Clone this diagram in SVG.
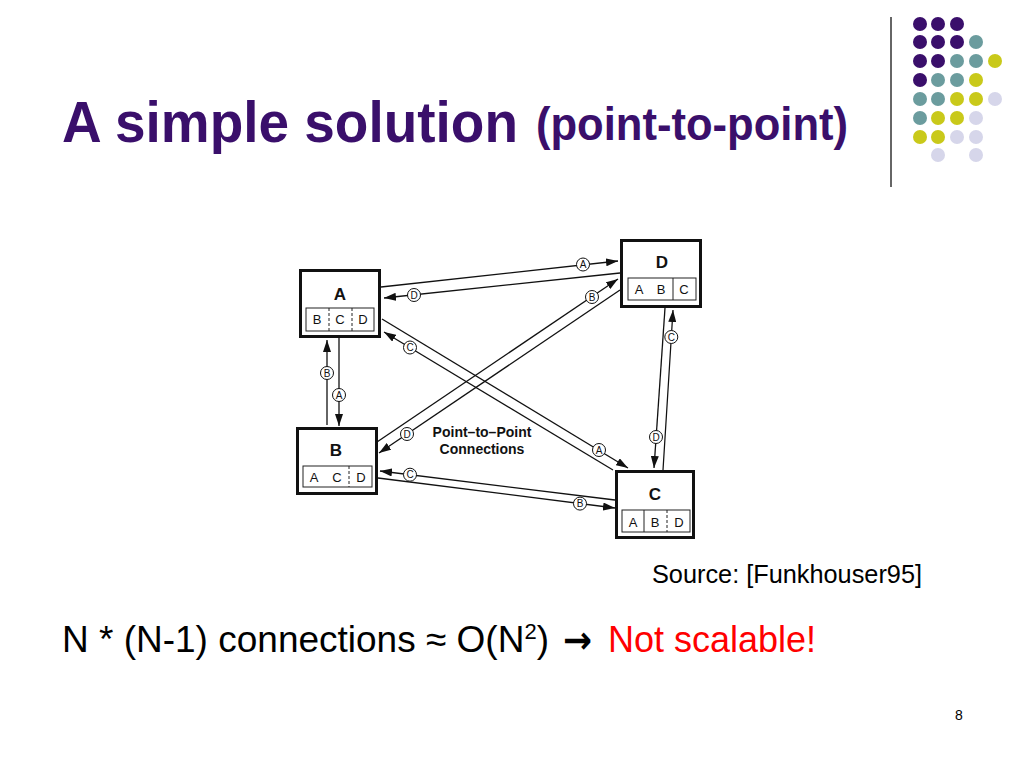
<svg xmlns="http://www.w3.org/2000/svg" width="1024" height="768" viewBox="0 0 1024 768">
<defs>
<style>
.title{font-family:"Liberation Sans",Arial,sans-serif;font-weight:bold;fill:#3a0f6b}
.body{font-family:"Liberation Sans",Arial,sans-serif;fill:#000}
.outer{fill:#fff;stroke:#111;stroke-width:3}
.inner{fill:none;stroke:#222;stroke-width:1}
.div{stroke:#222;stroke-width:1}
.dash{stroke-dasharray:3,2}
.nl{font-family:"Liberation Sans",Arial,sans-serif;font-weight:bold;font-size:17px;fill:#111;text-anchor:middle}
.cl{font-family:"Liberation Sans",Arial,sans-serif;font-size:13px;fill:#111;text-anchor:middle}
.ln{stroke:#111;stroke-width:1.3;fill:none;marker-end:url(#ah)}
.lc{fill:#fff;stroke:#111;stroke-width:1}
.lt{font-family:"Liberation Sans",Arial,sans-serif;font-size:10px;fill:#111;text-anchor:middle}
.pu{fill:#3a0f6b}.te{fill:#6b9c9e}.ye{fill:#c9c91a}.la{fill:#d6d6ea}
</style>
<marker id="ah" markerUnits="userSpaceOnUse" markerWidth="12" markerHeight="8" refX="12" refY="4" orient="auto">
<path d="M0,0 L12,4 L0,8 z" fill="#111"/>
</marker>
</defs>
<rect width="1024" height="768" fill="#fff"/>

<g id="dots">
<circle class="pu" cx="920" cy="24" r="7"/><circle class="pu" cx="938" cy="24" r="7"/><circle class="pu" cx="957" cy="24" r="7"/>
<circle class="pu" cx="920" cy="42" r="7"/><circle class="pu" cx="938" cy="42" r="7"/><circle class="pu" cx="957" cy="42" r="7"/><circle class="te" cx="976" cy="42" r="7"/>
<circle class="pu" cx="920" cy="61" r="7"/><circle class="pu" cx="938" cy="61" r="7"/><circle class="te" cx="957" cy="61" r="7"/><circle class="te" cx="976" cy="61" r="7"/><circle class="ye" cx="995" cy="61" r="7"/>
<circle class="pu" cx="920" cy="80" r="7"/><circle class="te" cx="938" cy="80" r="7"/><circle class="te" cx="957" cy="80" r="7"/><circle class="ye" cx="976" cy="80" r="7"/>
<circle class="te" cx="920" cy="99" r="7"/><circle class="te" cx="938" cy="99" r="7"/><circle class="ye" cx="957" cy="99" r="7"/><circle class="ye" cx="976" cy="99" r="7"/><circle class="la" cx="995" cy="99" r="7"/>
<circle class="te" cx="920" cy="118" r="7"/><circle class="ye" cx="938" cy="118" r="7"/><circle class="ye" cx="957" cy="118" r="7"/><circle class="la" cx="976" cy="118" r="7"/>
<circle class="ye" cx="920" cy="137" r="7"/><circle class="ye" cx="938" cy="137" r="7"/><circle class="la" cx="957" cy="137" r="7"/><circle class="la" cx="976" cy="137" r="7"/>
<circle class="la" cx="938" cy="155" r="7"/><circle class="la" cx="976" cy="155" r="7"/>
</g>
<line x1="891" y1="17" x2="891" y2="187" stroke="#333" stroke-width="1.5"/>

<text class="title" x="62" y="142" font-size="57" textLength="456" lengthAdjust="spacingAndGlyphs">A simple solution</text>
<text class="title" x="536" y="140" font-size="46" textLength="312" lengthAdjust="spacingAndGlyphs">(point-to-point)</text>

<g id="connectors">
<line class="ln" x1="381" y1="287" x2="618" y2="261"/>
<line class="ln" x1="620" y1="273" x2="384" y2="298"/>
<line class="ln" x1="382" y1="319" x2="628" y2="468"/>
<line class="ln" x1="613" y1="470" x2="384" y2="332"/>
<line class="ln" x1="377" y1="442" x2="618" y2="279"/>
<line class="ln" x1="620" y1="290" x2="379" y2="453"/>
<line class="ln" x1="615" y1="500" x2="380" y2="471"/>
<line class="ln" x1="378" y1="478" x2="615" y2="508"/>
<line class="ln" x1="327" y1="425" x2="327" y2="340"/>
<line class="ln" x1="339" y1="338" x2="339" y2="426"/>
<line class="ln" x1="665" y1="308" x2="654" y2="468"/>
<line class="ln" x1="663" y1="470" x2="673" y2="310"/>
<g id="conn-labels">
<circle class="lc" cx="583" cy="264.5" r="6.5"/><text class="lt" x="583" y="268">A</text>
<circle class="lc" cx="414" cy="295" r="6.5"/><text class="lt" x="414" y="298.5">D</text>
<circle class="lc" cx="599" cy="450" r="6.5"/><text class="lt" x="599" y="453.5">A</text>
<circle class="lc" cx="410" cy="347.5" r="6.5"/><text class="lt" x="410" y="351">C</text>
<circle class="lc" cx="592" cy="297" r="6.5"/><text class="lt" x="592" y="300.5">B</text>
<circle class="lc" cx="407" cy="434" r="6.5"/><text class="lt" x="407" y="437.5">D</text>
<circle class="lc" cx="410" cy="474.7" r="6.5"/><text class="lt" x="410" y="478.2">C</text>
<circle class="lc" cx="580" cy="503.6" r="6.5"/><text class="lt" x="580" y="507.1">B</text>
<circle class="lc" cx="327" cy="373" r="6.5"/><text class="lt" x="327" y="376.5">B</text>
<circle class="lc" cx="339" cy="395" r="6.5"/><text class="lt" x="339" y="398.5">A</text>
<circle class="lc" cx="656" cy="437" r="6.5"/><text class="lt" x="656" y="440.5">D</text>
<circle class="lc" cx="671.3" cy="337" r="6.5"/><text class="lt" x="671.3" y="340.5">C</text>
</g>
</g>

<g id="node-A">
<rect class="outer" x="300.5" y="270.5" width="79" height="66"/>
<text class="nl" x="340" y="300">A</text>
<rect class="inner" x="306" y="308" width="68" height="23"/>
<line class="div dash" x1="329" y1="308" x2="329" y2="331"/>
<line class="div dash" x1="352" y1="308" x2="352" y2="331"/>
<text class="cl" x="317" y="324">B</text><text class="cl" x="340" y="324">C</text><text class="cl" x="363" y="324">D</text>
</g>
<g id="node-D">
<rect class="outer" x="621.5" y="240.5" width="79" height="66"/>
<text class="nl" x="662" y="268">D</text>
<rect class="inner" x="628" y="278" width="68" height="22"/>
<line class="div" x1="673" y1="278" x2="673" y2="300"/>
<text class="cl" x="639" y="294">A</text><text class="cl" x="661" y="294">B</text><text class="cl" x="684" y="294">C</text>
</g>
<g id="node-B">
<rect class="outer" x="297.5" y="428.5" width="79" height="65"/>
<text class="nl" x="336" y="456">B</text>
<rect class="inner" x="303" y="466" width="69" height="21"/>
<line class="div dash" x1="349" y1="466" x2="349" y2="487"/>
<text class="cl" x="314" y="482">A</text><text class="cl" x="337" y="482">C</text><text class="cl" x="361" y="482">D</text>
</g>
<g id="node-C">
<rect class="outer" x="616.5" y="471.5" width="77" height="66"/>
<text class="nl" x="655" y="500">C</text>
<rect class="inner" x="622" y="510" width="68" height="22"/>
<line class="div" x1="644" y1="510" x2="644" y2="532"/>
<line class="div dash" x1="667" y1="510" x2="667" y2="532"/>
<text class="cl" x="633" y="527">A</text><text class="cl" x="655" y="527">B</text><text class="cl" x="679" y="527">D</text>
</g>

<g id="diagram-caption" font-family="Liberation Sans, Arial, sans-serif" font-weight="bold" font-size="14" fill="#111" text-anchor="middle">
<text x="482" y="437">Point–to–Point</text>
<text x="482" y="454">Connections</text>
</g>

<text class="body" x="652" y="583" font-size="25.3">Source: [Funkhouser95]</text>

<text class="body" x="62" y="652" font-size="37">N * (N-1) connections ≈ O(N<tspan font-size="22" dy="-13">2</tspan><tspan dy="13">)</tspan></text>
<text x="563" y="653" font-family="DejaVu Sans, sans-serif" font-weight="bold" font-size="38" fill="#000" textLength="29" lengthAdjust="spacingAndGlyphs">→</text>
<text x="608" y="652" font-family="Liberation Sans, Arial, sans-serif" font-size="36" fill="#ff0000">Not scalable!</text>

<text class="body" x="955" y="720" font-size="14">8</text>
</svg>
